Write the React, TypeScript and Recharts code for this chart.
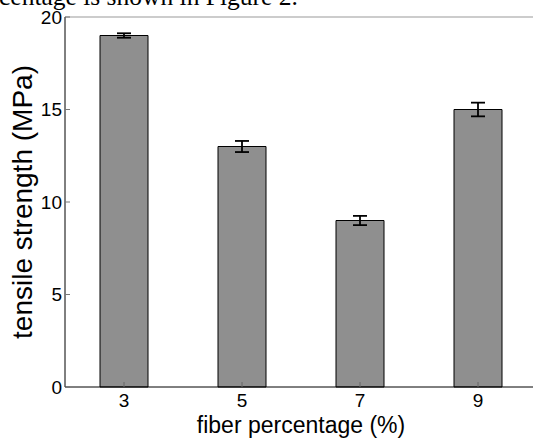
import { BarChart, Bar, XAxis, YAxis, ErrorBar } from 'recharts';

// data
const fiberPct = [3, 5, 7, 9];
const strength = [19, 13, 9, 15];
const strengthErr = [0.12, 0.3, 0.25, 0.37];
const xTicks = [3, 5, 7, 9];
const yTicks = [0, 5, 10, 15, 20];

const data = fiberPct.map((x, i) => ({ x, strength: strength[i], err: strengthErr[i] }));

const SANS = '"Liberation Sans", Arial, Helvetica, sans-serif';
const SERIF = '"Liberation Serif", "Times New Roman", serif';

function XTitle({ viewBox }: { viewBox?: { x: number; y: number; width: number; height: number } }) {
  if (!viewBox) return null;
  return (
    <text x={viewBox.x + viewBox.width / 2} y={viewBox.y + 46} textAnchor="middle"
      fill="#000" fontSize={23} fontFamily={SANS}>
      fiber percentage (%)
    </text>
  );
}

function YTitle({ viewBox }: { viewBox?: { x: number; y: number; width: number; height: number } }) {
  if (!viewBox) return null;
  const cx = viewBox.x + 32;
  const cy = viewBox.y + viewBox.height / 2;
  return (
    <text x={cx} y={cy} textAnchor="middle" transform={`rotate(-90, ${cx}, ${cy})`}
      fill="#000" fontSize={28} fontFamily={SANS}>
      tensile strength (MPa)
    </text>
  );
}

export default function App() {
  return (
    <div style={{ position: 'absolute', left: 0, top: 0, width: 533, height: 439, overflow: 'hidden', background: '#fff' }}>
      {/* cropped body text above the figure */}
      <svg width={533} height={20} style={{ position: 'absolute', left: 0, top: 0 }}>
        <text x={-1} y={5} fontSize={25.5} fontFamily={SERIF} fill="#000">centage is shown in Figure 2.</text>
      </svg>
      <BarChart width={560} height={439} data={data}
        margin={{ top: 0, right: 0, left: 0, bottom: 0 }}>
        <XAxis dataKey="x" type="number" domain={[2, 10]} ticks={xTicks} interval={0}
          height={52} tickSize={-5} tickMargin={12}
          axisLine={{ stroke: '#000' }} tickLine={{ stroke: '#666' }}
          tick={{ fill: '#000', fontSize: 19, fontFamily: SANS }}
          label={<XTitle />} />
        <XAxis xAxisId="top" orientation="top" dataKey="x" type="number" domain={[2, 10]} ticks={xTicks}
          height={17} tickSize={-5} tick={false}
          axisLine={{ stroke: '#999' }} tickLine={{ stroke: '#999' }} />
        <YAxis domain={[0, 20]} ticks={yTicks} interval={0} width={65}
          tickSize={-5} tickMargin={8}
          axisLine={{ stroke: '#000' }} tickLine={{ stroke: '#777' }}
          tick={{ fill: '#000', fontSize: 19, fontFamily: SANS }}
          label={<YTitle />} />
        <YAxis yAxisId="right" orientation="right" domain={[0, 20]} ticks={yTicks} width={23}
          tickSize={-5} tick={false}
          axisLine={{ stroke: '#999' }} tickLine={{ stroke: '#999' }} />
        <Bar dataKey="strength" fill="#8f8f8f" stroke="#000" strokeWidth={1}
          barSize={48} isAnimationActive={false}>
          <ErrorBar dataKey="err" direction="y" width={7} stroke="#000" strokeWidth={1.8}
            isAnimationActive={false} />
        </Bar>
      </BarChart>
    </div>
  );
}
